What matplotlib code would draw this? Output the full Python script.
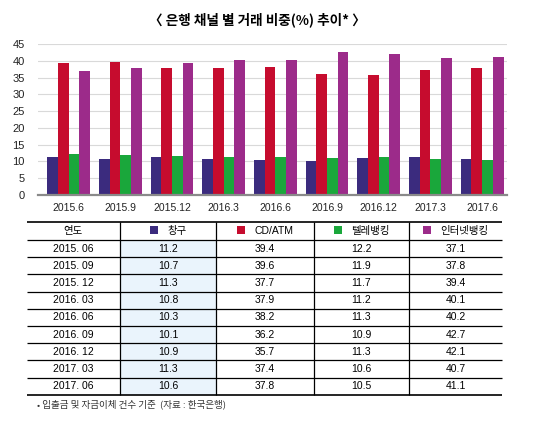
import matplotlib
matplotlib.use('Agg')
import matplotlib.pyplot as plt
from matplotlib.patches import Rectangle
import numpy as np

plt.rcParams['font.family'] = ['Liberation Sans', 'Noto Sans CJK KR', 'DejaVu Sans']

# data
periods = ['2015.6', '2015.9', '2015.12', '2016.3', '2016.6', '2016.9', '2016.12', '2017.3', '2017.6']
table_periods = ['2015. 06', '2015. 09', '2015. 12', '2016. 03', '2016. 06',
                 '2016. 09', '2016. 12', '2017. 03', '2017. 06']
channels = ['창구', 'CD/ATM', '텔레뱅킹', '인터넷뱅킹']
branch = [11.2, 10.7, 11.3, 10.8, 10.3, 10.1, 10.9, 11.3, 10.6]
atm = [39.4, 39.6, 37.7, 37.9, 38.2, 36.2, 35.7, 37.4, 37.8]
tele = [12.2, 11.9, 11.7, 11.2, 11.3, 10.9, 11.3, 10.6, 10.5]
internet = [37.1, 37.8, 39.4, 40.1, 40.2, 42.7, 42.1, 40.7, 41.1]
colors = ['#3b2b7e', '#c60c2e', '#1aa73b', '#9c2b8a']

W, H = 547, 424
fig = plt.figure(figsize=(W / 100, H / 100), dpi=100)

# bar chart
ax = fig.add_axes([38 / W, 1 - 195 / H, 469 / W, 151 / H])
x = np.arange(len(periods))
w = 0.207
series = [branch, atm, tele, internet]
for i, (vals, c) in enumerate(zip(series, colors)):
    ax.bar(x + (i - 1.5) * w, vals, w, color=c, zorder=3)

ax.set_ylim(0, 45)
ax.set_xlim(-0.59, 8.48)
ax.set_yticks(range(0, 46, 5))
ax.set_xticks(x)
ax.set_xticklabels(periods)
ax.yaxis.grid(True, color='#d9d9d9', linewidth=0.8, zorder=0)
for s in ['top', 'right', 'left']:
    ax.spines[s].set_visible(False)
ax.spines['bottom'].set_color('#8a8a8a')
ax.spines['bottom'].set_linewidth(1.6)
ax.spines['bottom'].set_zorder(4)
ax.tick_params(axis='y', length=0, pad=9.5, labelsize=8, labelcolor='#222222')
ax.tick_params(axis='x', length=0, pad=6, labelsize=7.5, labelcolor='#222222')

fig.text(257 / W, 1 - 20 / H, '〈 은행 채널 별 거래 비중(%) 추이* 〉', ha='center', va='center',
         fontsize=9.8, fontweight='bold', family=['Noto Sans CJK KR', 'DejaVu Sans'])

# table
tax = fig.add_axes([0, 0, 1, 1])
tax.set_xlim(0, W)
tax.set_ylim(H, 0)
tax.axis('off')

left, right = 26.7, 502
top, head_bot = 222.3, 240
row_h = 17.2
nrows = len(table_periods)
bottom = head_bot + row_h * nrows
cols = [left, 119.7, 216.3, 313.7, 409.3, right]

tax.add_patch(Rectangle((cols[1], head_bot), cols[2] - cols[1], bottom - head_bot,
                        facecolor='#eaf4fc', edgecolor='none', zorder=1))
tax.hlines([top, bottom], left, right, color='black', linewidth=1.2, zorder=3)
tax.hlines([head_bot + row_h * k for k in range(nrows)], left, right,
           color='black', linewidth=0.9, zorder=3)
tax.vlines(cols[1:-1], top, bottom, color='black', linewidth=0.9, zorder=3)

centers = [(cols[k] + cols[k + 1]) / 2 for k in range(5)]
hy = (top + head_bot) / 2
tfs = 7.5
tax.text(centers[0], hy, '연도', ha='center', va='center', fontsize=tfs,
         family=['Noto Sans CJK KR'])
fig.canvas.draw()
r = fig.canvas.get_renderer()
sq = 8.5
gap = 9
for k, (name, c) in enumerate(zip(channels, colors)):
    t = tax.text(0, hy, name, ha='left', va='center', fontsize=tfs)
    tw = t.get_window_extent(r).width
    total = sq + gap + tw
    x0 = centers[k + 1] - total / 2
    t.set_x(x0 + sq + gap)
    tax.add_patch(Rectangle((x0, hy - sq / 2 - 1), sq, sq, facecolor=c, edgecolor='none', zorder=4))

for i in range(nrows):
    cy = head_bot + row_h * (i + 0.5)
    row = [table_periods[i]] + ['%.1f' % s[i] for s in series]
    for k, val in enumerate(row):
        tax.text(centers[k], cy, val, ha='center', va='center', fontsize=tfs)

tax.text(37, 404, '• 입출금 및 자금이체 건수 기준  (자료 : 한국은행)', ha='left', va='center',
         fontsize=6.9, color='#333333', family=['Noto Sans CJK KR', 'DejaVu Sans'])

fig.savefig('out.png', dpi=100)
